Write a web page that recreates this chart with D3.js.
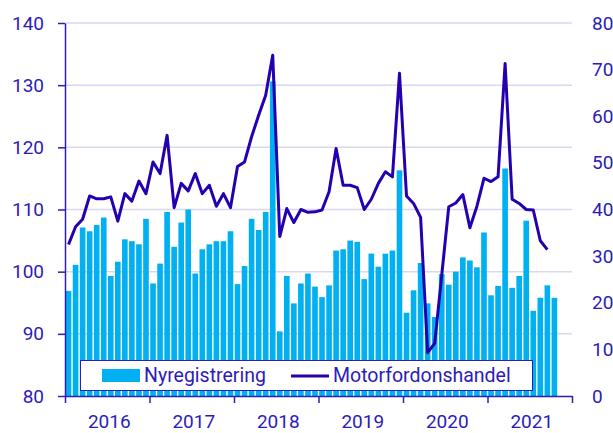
<!DOCTYPE html>
<html>
<head>
<meta charset="utf-8">
<script src="https://cdn.jsdelivr.net/npm/d3@7"></script>
<style>
  html, body { margin: 0; padding: 0; background: #fff; }
  svg { display: block; }
</style>
</head>
<body>
<div id="container"></div>
<script>
// Nyregistrering (bars, left axis) vs Motorfordonshandel (line, right axis)
// Monthly, Jan 2016 onwards

const years = ['2016', '2017', '2018', '2019', '2020', '2021'];

const nyregistrering = [
  96.9, 101.1, 107.1, 106.5, 107.5, 108.7, 99.3, 101.6, 105.2, 104.9, 104.4, 108.5,
  98.1, 101.3, 109.6, 104.0, 107.9, 110.0, 99.7, 103.6, 104.4, 104.9, 104.9, 106.5,
  98.0, 100.9, 108.5, 106.7, 109.6, 130.6, 90.4, 99.3, 94.9, 98.1, 99.7, 97.6,
  95.9, 97.8, 103.4, 103.6, 105.0, 104.8, 98.8, 102.9, 100.8, 102.9, 103.4, 116.3,
  93.4, 97.0, 101.4, 94.9, 92.7, 99.6, 97.9, 100.0, 102.3, 101.8, 100.7, 106.3,
  96.2, 97.7, 116.6, 97.4, 99.3, 108.2, 93.7, 95.8, 97.8, 95.8
];

const motorfordonshandel = [
  32.5, 36.3, 37.9, 42.9, 42.3, 42.3, 42.7, 37.5, 43.4, 41.8, 46.1, 43.4,
  50.2, 47.7, 55.9, 40.4, 45.6, 44.0, 47.7, 43.4, 45.2, 40.7, 43.4, 40.4,
  49.2, 50.2, 55.6, 60.2, 64.5, 73.1, 34.2, 40.2, 37.2, 40.0, 39.4, 39.5,
  39.9, 43.8, 53.1, 45.2, 45.2, 44.7, 40.0, 42.2, 45.6, 48.1, 47.0, 69.2,
  42.9, 41.3, 38.3, 9.3, 11.3, 25.9, 40.6, 41.4, 43.2, 36.1, 40.7, 46.7,
  46.0, 47.0, 71.3, 42.2, 41.3, 40.0, 39.9, 33.3, 31.4
];

const leftTicks  = [80, 90, 100, 110, 120, 130, 140];
const rightTicks = [0, 10, 20, 30, 40, 50, 60, 70, 80];

const seriesNames = ['Nyregistrering', 'Motorfordonshandel'];

// ---------------------------------------------------------------------------

const W = 613, H = 433;
const plotL = 65, plotR = 572, plotT = 23, plotB = 396;

const textColor = '#2c1cb8';
const lineColor = '#2400b0';
const barColor  = '#00b0f0';
const gridColor = '#dad8f0';
const font      = 'Roboto, "Noto Sans", Arial, sans-serif';
const fontSize  = '19px';

const nMonths = years.length * 12;
const months  = d3.range(nMonths);

const x = d3.scaleBand()
  .domain(months)
  .range([plotL, plotR])
  .paddingInner(0.2)
  .paddingOuter(0.1);

// continuous month scale for year boundaries / labels
const xm = d3.scaleLinear().domain([0, nMonths]).range([plotL, plotR]);

const yL = d3.scaleLinear().domain([80, 140]).range([plotB, plotT]);
const yR = d3.scaleLinear().domain([0, 80]).range([plotB, plotT]);

const svg = d3.select('#container')
  .append('svg')
  .attr('width', W)
  .attr('height', H);

// ── Grid ────────────────────────────────────────────────────────────────
svg.append('g')
  .selectAll('line')
  .data(leftTicks.filter(d => d !== 80))
  .join('line')
  .attr('x1', plotL)
  .attr('x2', plotR)
  .attr('y1', d => yL(d))
  .attr('y2', d => yL(d))
  .attr('stroke', gridColor)
  .attr('stroke-width', 1.5);

// ── Bars ────────────────────────────────────────────────────────────────
svg.append('g')
  .selectAll('rect')
  .data(nyregistrering)
  .join('rect')
  .attr('x', (d, i) => x(i))
  .attr('width', x.bandwidth())
  .attr('y', d => yL(d))
  .attr('height', d => yL(80) - yL(d))
  .attr('fill', barColor);

// ── Line ────────────────────────────────────────────────────────────────
const line = d3.line()
  .x((d, i) => x(i) + x.bandwidth() / 2)
  .y(d => yR(d));

svg.append('path')
  .datum(motorfordonshandel)
  .attr('d', line)
  .attr('fill', 'none')
  .attr('stroke', lineColor)
  .attr('stroke-width', 3)
  .attr('stroke-linejoin', 'round');

// ── Axes ────────────────────────────────────────────────────────────────
const styleAxis = (g) => {
  g.selectAll('text')
    .attr('fill', textColor)
    .attr('font-size', fontSize)
    .attr('font-family', font);
  g.selectAll('line').attr('stroke', textColor).attr('stroke-width', 1.5);
  g.selectAll('path.domain').attr('stroke', textColor).attr('stroke-width', 1.5);
};

svg.append('g')
  .attr('transform', `translate(${plotL},0)`)
  .call(d3.axisLeft(yL).tickValues(leftTicks).tickSize(7).tickSizeOuter(0).tickPadding(14))
  .call(styleAxis);

svg.append('g')
  .attr('transform', `translate(${plotR},0)`)
  .call(d3.axisRight(yR).tickValues(rightTicks).tickSize(0).tickPadding(20))
  .call(styleAxis)
  .call(g => g.select('.domain').remove());

svg.append('g')
  .attr('transform', `translate(0,${plotB})`)
  .call(d3.axisBottom(xm).tickValues(d3.range(0, nMonths + 1, 12)).tickSize(7).tickSizeOuter(0).tickFormat(''))
  .call(styleAxis);

svg.append('g')
  .selectAll('text')
  .data(years)
  .join('text')
  .attr('x', (d, i) => xm(i * 12 + 6) + 2)
  .attr('y', 428)
  .attr('text-anchor', 'middle')
  .attr('fill', textColor)
  .attr('font-size', fontSize)
  .attr('font-family', font)
  .text(d => d);

// ── Legend ──────────────────────────────────────────────────────────────
const legend = svg.append('g');

legend.append('rect')
  .attr('x', 80.5)
  .attr('y', 360.5)
  .attr('width', 452)
  .attr('height', 30)
  .attr('fill', '#fff')
  .attr('stroke', textColor)
  .attr('stroke-width', 1);

legend.append('rect')
  .attr('x', 102)
  .attr('y', 369)
  .attr('width', 38)
  .attr('height', 13)
  .attr('fill', barColor);

legend.append('text')
  .attr('x', 144)
  .attr('y', 382)
  .attr('fill', textColor)
  .attr('font-size', '19.5px')
  .attr('font-family', font)
  .text(seriesNames[0]);

legend.append('line')
  .attr('x1', 291)
  .attr('x2', 329)
  .attr('y1', 376)
  .attr('y2', 376)
  .attr('stroke', lineColor)
  .attr('stroke-width', 3);

legend.append('text')
  .attr('x', 333)
  .attr('y', 382)
  .attr('fill', textColor)
  .attr('font-size', '19.5px')
  .attr('font-family', font)
  .text(seriesNames[1]);
</script>
</body>
</html>
